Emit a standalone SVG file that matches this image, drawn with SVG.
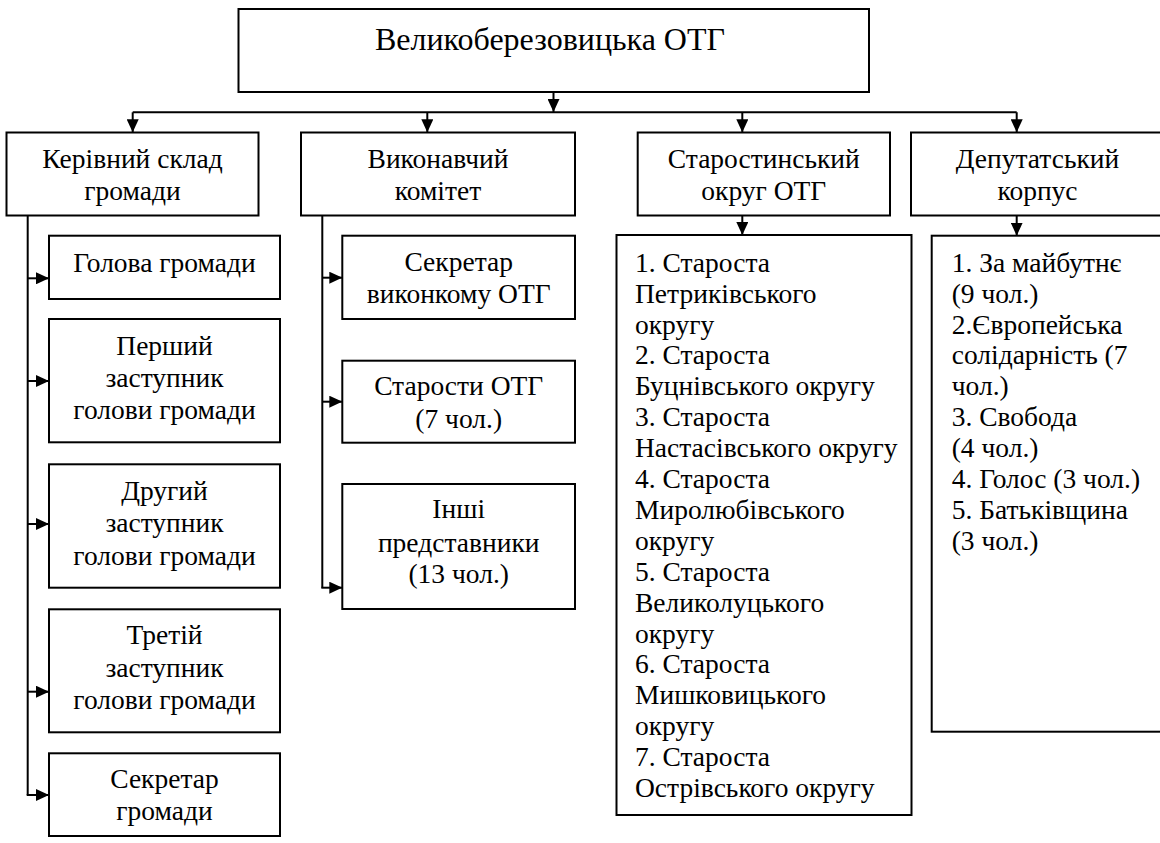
<svg xmlns="http://www.w3.org/2000/svg" width="1160" height="843" viewBox="0 0 1160 843">
<style>
.b{fill:#fff;stroke:#000;stroke-width:2}
text{font-family:"Liberation Serif","Times New Roman",serif;font-size:27.5px;fill:#000}
.c{text-anchor:middle}
.t{font-size:32px}
.ln{fill:none;stroke:#000;stroke-width:2}
.ar{fill:none;stroke:#000;stroke-width:2;marker-end:url(#ah)}
</style>
<defs>
<marker id="ah" markerUnits="userSpaceOnUse" markerWidth="13" markerHeight="12" refX="13" refY="6" orient="auto"><path d="M0,0 L13,6 L0,12 z" fill="#000"/></marker>
</defs>
<rect width="1160" height="843" fill="#fff"/>
<g id="connectors">
<path class="ar" d="M553.5,92 V112"/>
<path class="ln" d="M132.7,112.3 H1016.7"/>
<path class="ar" d="M132.7,112.3 V132.3"/>
<path class="ar" d="M427.3,112.3 V132.3"/>
<path class="ar" d="M742.3,112.3 V132.3"/>
<path class="ar" d="M1016.7,112.3 V132.3"/>
<path class="ar" d="M742.3,215.3 V235"/>
<path class="ar" d="M1016.7,215.3 V235.7"/>
<path class="ln" d="M27.7,215.3 V795"/>
<path class="ar" d="M27.7,278.3 H49"/>
<path class="ar" d="M27.7,381 H49"/>
<path class="ar" d="M27.7,524 H49"/>
<path class="ar" d="M27.7,691.7 H49"/>
<path class="ar" d="M26.7,795 H49"/>
<path class="ln" d="M322.3,215.3 V587.7"/>
<path class="ar" d="M322.3,277.7 H342.3"/>
<path class="ar" d="M322.3,401.7 H342.3"/>
<path class="ar" d="M321.3,587.7 H342.3"/>
</g>
<g id="root"><rect class="b" x="238.5" y="9" width="630.5" height="83"/><text class="c t" x="550" y="50">Великоберезовицька ОТГ</text></g>
<g id="kerivnyi"><rect class="b" x="6.5" y="132.5" width="252" height="83"/><text class="c" x="132.5" y="168">Керівний склад</text><text class="c" x="132.5" y="200">громади</text></g>
<g id="vykonavchyi"><rect class="b" x="301" y="132.5" width="274" height="83"/><text class="c" x="438" y="167.5">Виконавчий</text><text class="c" x="438" y="199.5">комітет</text></g>
<g id="starostynskyi"><rect class="b" x="637.7" y="132.5" width="252.3" height="83"/><text class="c" x="763.8" y="167.5">Старостинський</text><text class="c" x="763.8" y="199.5">округ ОТГ</text></g>
<g id="deputatskyi"><rect class="b" x="911" y="132.5" width="260" height="83"/><text class="c" x="1037.5" y="167.5">Депутатський</text><text class="c" x="1037.5" y="199.5">корпус</text></g>
<g id="holova"><rect class="b" x="49" y="235.7" width="231" height="63.3"/><text class="c" x="164.5" y="271.7">Голова громади</text></g>
<g id="pershyi"><rect class="b" x="49" y="319" width="231" height="123.3"/><text class="c" x="164.5" y="355">Перший</text><text class="c" x="164.5" y="387">заступник</text><text class="c" x="164.5" y="419.3">голови громади</text></g>
<g id="druhyi"><rect class="b" x="49" y="464.3" width="231" height="123.4"/><text class="c" x="164.5" y="499.5">Другий</text><text class="c" x="164.5" y="531.7">заступник</text><text class="c" x="164.5" y="564.5">голови громади</text></g>
<g id="tretii"><rect class="b" x="49" y="609.3" width="231" height="123"/><text class="c" x="164.5" y="644">Третій</text><text class="c" x="164.5" y="676.7">заступник</text><text class="c" x="164.5" y="709.3">голови громади</text></g>
<g id="sekretar"><rect class="b" x="49" y="753.3" width="231" height="82.7"/><text class="c" x="164.5" y="788.3">Секретар</text><text class="c" x="164.5" y="820">громади</text></g>
<g id="sekretar-vykonkomu"><rect class="b" x="342.3" y="235.7" width="232.7" height="83.3"/><text class="c" x="458.7" y="271">Секретар</text><text class="c" x="458.7" y="303.3">виконкому ОТГ</text></g>
<g id="starosty"><rect class="b" x="342.3" y="360.7" width="232.7" height="82"/><text class="c" x="458.7" y="395">Старости ОТГ</text><text class="c" x="458.7" y="427.7">(7 чол.)</text></g>
<g id="inshi"><rect class="b" x="342.3" y="484" width="232.7" height="125"/><text class="c" x="458.7" y="518.3">Інші</text><text class="c" x="458.7" y="551.7">представники</text><text class="c" x="458.7" y="582.7">(13 чол.)</text></g>
<g id="okruhy"><rect class="b" x="616.5" y="235" width="295" height="580"/>
<text x="635" y="271.7">1. Староста</text>
<text x="635" y="302.6">Петриківського</text>
<text x="635" y="333.5">округу</text>
<text x="635" y="364.4">2. Староста</text>
<text x="635" y="395.3">Буцнівського округу</text>
<text x="635" y="426.2">3. Староста</text>
<text x="635" y="457.1">Настасівського округу</text>
<text x="635" y="488">4. Староста</text>
<text x="635" y="518.9">Миролюбівського</text>
<text x="635" y="549.8">округу</text>
<text x="635" y="580.7">5. Староста</text>
<text x="635" y="611.6">Великолуцького</text>
<text x="635" y="642.5">округу</text>
<text x="635" y="673.4">6. Староста</text>
<text x="635" y="704.3">Мишковицького</text>
<text x="635" y="735.2">округу</text>
<text x="635" y="766.1">7. Староста</text>
<text x="635" y="797">Острівського округу</text>
</g>
<g id="fraktsii"><rect class="b" x="931.7" y="235.7" width="240" height="496"/>
<text x="951.7" y="271.7">1. За майбутнє</text>
<text x="951.7" y="302.6">(9 чол.)</text>
<text x="951.7" y="333.5">2.Європейська</text>
<text x="951.7" y="364.4">солідарність (7</text>
<text x="951.7" y="395.3">чол.)</text>
<text x="951.7" y="426.2">3. Свобода</text>
<text x="951.7" y="457.1">(4 чол.)</text>
<text x="951.7" y="488">4. Голос (3 чол.)</text>
<text x="951.7" y="518.9">5. Батьківщина</text>
<text x="951.7" y="549.8">(3 чол.)</text>
</g>
</svg>
